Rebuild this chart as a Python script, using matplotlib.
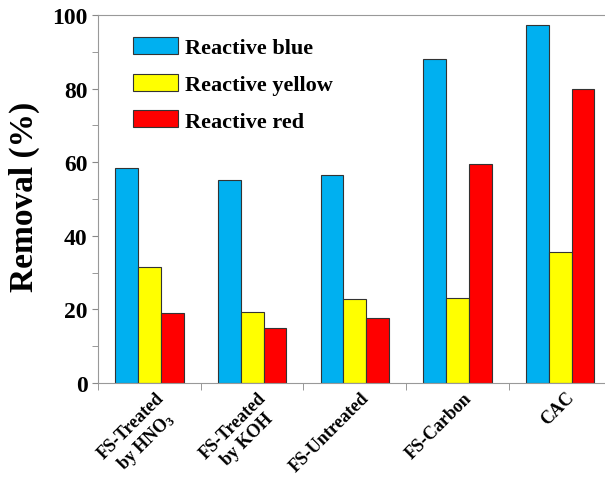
import numpy as np
import matplotlib
matplotlib.use("Agg")
import matplotlib.pyplot as plt
from matplotlib.ticker import MultipleLocator

plt.rcParams['font.family'] = ['Liberation Serif', 'DejaVu Serif']
plt.rcParams['font.weight'] = 'bold'
plt.rcParams['mathtext.fontset'] = 'custom'
plt.rcParams['mathtext.rm'] = 'Liberation Serif:bold'
plt.rcParams['mathtext.default'] = 'rm'

categories = ["FS-Treated\nby HNO$_3$", "FS-Treated\nby KOH", "FS-Untreated", "FS-Carbon", "CAC"]
series_names = ["Reactive blue", "Reactive yellow", "Reactive red"]
blue = [58.4, 55.3, 56.6, 88.0, 97.4]
yellow = [31.5, 19.3, 22.8, 23.2, 35.6]
red = [19.0, 15.0, 17.7, 59.5, 79.8]
colors = ["#00B0F0", "#FFFF00", "#FF0000"]

fig = plt.figure(figsize=(6.05, 4.85), dpi=100)
ax = fig.add_axes([0.162, 0.208, 0.849, 0.759])

x = np.arange(len(categories))
w = 0.222
for i, (vals, name) in enumerate(zip([blue, yellow, red], series_names)):
    ax.bar(x + (i - 1) * w, vals, width=w, color=colors[i], edgecolor="#333333",
           linewidth=0.8, label=name)

ax.set_xlim(-0.5, len(categories) - 0.5)
ax.set_ylim(0, 100)
ax.yaxis.set_major_locator(MultipleLocator(20))
ax.yaxis.set_minor_locator(MultipleLocator(10))
# labels sit a little right of the group centre, like the original
ax.set_xticks(x + 0.055)
ax.set_xticklabels(categories, rotation=45, ha='right', rotation_mode='anchor',
                   multialignment='center', fontsize=13, fontweight='bold')
ax.set_xticks(np.arange(len(categories)) - 0.5, minor=True)
ax.tick_params(axis='x', which='major', length=0, pad=4)
ax.tick_params(axis='x', which='minor', length=5, color='#888888', direction='out')
ax.tick_params(axis='y', which='both', length=4, color='#888888', direction='out', labelsize=17)
for lab in ax.get_yticklabels():
    lab.set_fontweight('bold')

for s in ['left', 'bottom', 'top']:
    ax.spines[s].set_color('#999999')
ax.spines['right'].set_visible(False)

ax.set_ylabel("Removal (%)", fontsize=24, fontweight='bold')
ax.yaxis.set_label_coords(-0.112, 0.51)

ax.legend(loc='upper left', bbox_to_anchor=(0.03, 0.995), frameon=False,
          prop={'size': 16, 'weight': 'bold'}, handlelength=2.0, handleheight=0.8,
          labelspacing=0.7, handletextpad=0.3)

fig.savefig("out.png", dpi=100)
